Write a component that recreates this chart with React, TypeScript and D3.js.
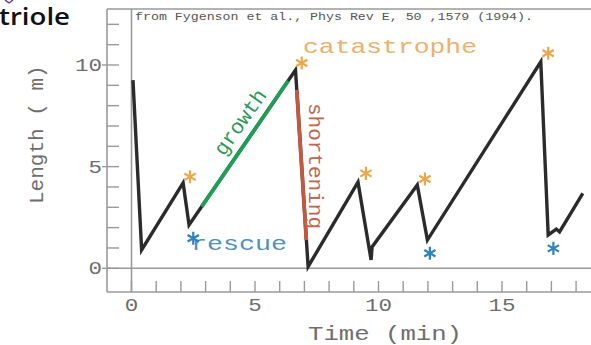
import React from "react";
import * as d3 from "d3";

// microtubule length vs time
const timeMin = [0.06, 0.41, 2.09, 2.33, 6.64, 7.15, 9.17, 9.7, 9.74, 11.57, 11.98, 16.57, 16.87, 17.2, 17.33, 18.27];
const lengthUm = [9.26, 0.9, 4.2, 2.13, 9.75, 0.08, 4.24, 0.41, 1.05, 4.1, 1.39, 10.16, 1.64, 1.93, 1.79, 3.69];

const growthT = [2.84, 6.34];
const growthL = [3.03, 9.22];
const shortT = [6.69, 7.08];
const shortL = [8.78, 1.39];

const catastropheT = [2.37, 6.89, 9.49, 11.88, 16.87];
const catastropheL = [4.5, 10.1, 4.67, 4.39, 10.58];
const rescueT = [2.5, 12.08, 17.08];
const rescueL = [1.48, 0.74, 0.98];

const xTickLabels = [0, 5, 10, 15];
const yTickLabels = [0, 5, 10];

const mono = "'Courier New', 'Liberation Mono', monospace";
const axisGray = "#9a9a9a";
const textGray = "#6e6e6e";

export default function App() {
  const x = d3.scaleLinear().domain([0, 15]).range([131.5, 502]);
  const y = d3.scaleLinear().domain([0, 10]).range([268.3, 65]);

  const left = 107, top = 9, bottom = 292, right = 591;

  const line = d3.line<number>().x((i) => x(timeMin[i])).y((i) => y(lengthUm[i]));
  const seg = (ts: number[], ls: number[]) =>
    d3.line<number>().x((i) => x(ts[i])).y((i) => y(ls[i]))(d3.range(ts.length)) || "";

  const star = d3.symbol(d3.symbolAsterisk, 120)() || "";

  const minorX = d3.range(0, 19);
  const minorY = d3.range(0, 13);

  return (
    <svg width={591} height={345} style={{ position: "absolute", left: 0, top: 0, background: "#fff" }}>
      <text x={-1} y={25} fontFamily="'Open Sans', sans-serif" fontWeight={600} fontSize={24} fill="#111"
        textLength={71} lengthAdjust="spacingAndGlyphs">triole</text>
      <path d="M5,0 L9,3 M13,0 L9,3" stroke="#6a3a8a" strokeWidth={1.5} />

      {/* frame */}
      <g stroke={axisGray} strokeWidth={1.6} fill="none">
        <line x1={left} x2={right} y1={top} y2={top} />
        <line x1={left} x2={left} y1={top} y2={bottom} />
        <line x1={left} x2={right} y1={bottom} y2={bottom} />
        <line x1={left} x2={right} y1={y(0)} y2={y(0)} />
        <line x1={x(0)} x2={x(0)} y1={top} y2={bottom} />
      </g>

      {/* ticks */}
      <g stroke={axisGray} strokeWidth={1.4}>
        {minorX.map((t) => (
          <line key={"xt" + t} x1={x(t)} x2={x(t)} y1={bottom} y2={bottom - 11} />
        ))}
        {minorY.map((v) => (
          <line key={"yt" + v} x1={yTickLabels.includes(v) ? left - 5 : left} x2={left + 12} y1={y(v)} y2={y(v)} />
        ))}
      </g>
      {xTickLabels.map((t) => (
        <text key={"xl" + t} x={x(t)} y={311} textAnchor="middle" fontFamily={mono} fontSize={19}
          fill={textGray} textLength={String(t).length * 13.5} lengthAdjust="spacingAndGlyphs">{t}</text>
      ))}
      {yTickLabels.map((v) => (
        <text key={"yl" + v} x={102} y={y(v) + 6} textAnchor="end" fontFamily={mono} fontSize={19}
          fill={textGray} textLength={String(v).length * 13.5} lengthAdjust="spacingAndGlyphs">{v}</text>
      ))}

      <text x={135} y={20} fontFamily={mono} fontSize={10.5} fill="#555" textLength={398}
        lengthAdjust="spacingAndGlyphs">from Fygenson et al., Phys Rev E, 50 ,1579 (1994).</text>

      <text x={308} y={340} fontFamily={mono} fontSize={21} fill={textGray} textLength={154}
        lengthAdjust="spacingAndGlyphs">Time (min)</text>
      <text transform="translate(43,204) rotate(-90)" fontFamily={mono} fontSize={21} fill={textGray}>
        Length ( m)
      </text>

      {/* trace */}
      <path d={line(d3.range(timeMin.length)) || ""} fill="none" stroke="#2b2b2b" strokeWidth={3.4}
        strokeLinejoin="miter" />
      <path d={seg(growthT, growthL)} fill="none" stroke="#1f9e57" strokeWidth={3.8} />
      <path d={seg(shortT, shortL)} fill="none" stroke="#c4573f" strokeWidth={3.8} />

      {/* labels */}
      <text x={303} y={53} fontFamily={mono} fontSize={21} fill="#efb06a" textLength={174}
        lengthAdjust="spacingAndGlyphs">catastrophe</text>
      <text transform="translate(224,157) rotate(-55)" fontFamily={mono} fontSize={21} fill="#2a9a5a">growth</text>
      <text transform="translate(309,103) rotate(90)" fontFamily={mono} fontSize={21} fill="#c0664e">shortening</text>
      <text x={191} y={250} fontFamily={mono} fontSize={21} fill="#4f92bd" textLength={96}
        lengthAdjust="spacingAndGlyphs">rescue</text>

      {catastropheT.map((t, i) => (
        <path key={"c" + i} d={star} transform={`translate(${x(t)},${y(catastropheL[i])})`}
          fill="none" stroke="#eda748" strokeWidth={2.2} />
      ))}
      {rescueT.map((t, i) => (
        <path key={"r" + i} d={star} transform={`translate(${x(t)},${y(rescueL[i])})`}
          fill="none" stroke="#2d82c2" strokeWidth={2.2} />
      ))}
    </svg>
  );
}
